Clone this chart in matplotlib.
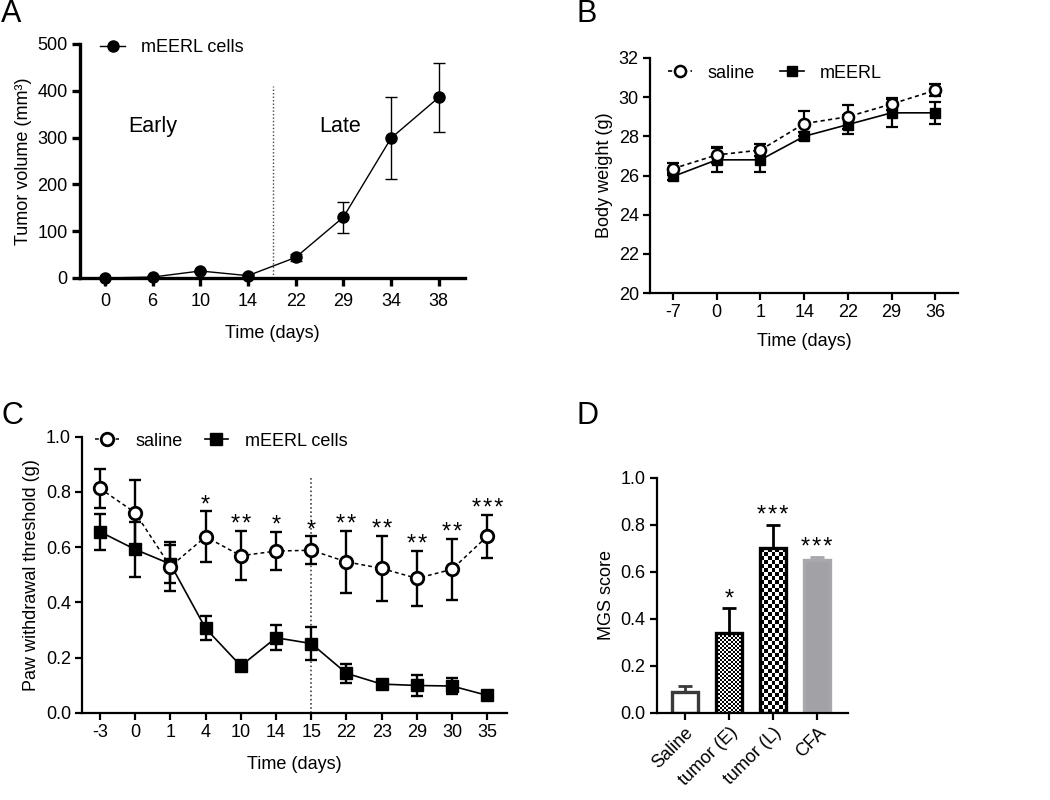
import numpy as np
import matplotlib
matplotlib.use('Agg')
import matplotlib.pyplot as plt

plt.rcParams['font.family'] = ['Liberation Sans', 'DejaVu Sans']
plt.rcParams['font.size'] = 13

# A - tumor growth
a_days = ['0', '6', '10', '14', '22', '29', '34', '38']
a_volume = [0, 2, 15, 5, 44, 130, 299, 386]
a_err = [0, 2, 3, 3, 8, 33, 87, 74]
a_split = 3.52
a_split_top = 410

# B - body weight
b_days = ['-7', '0', '1', '14', '22', '29', '36']
b_saline = [26.35, 27.05, 27.3, 28.65, 29.0, 29.65, 30.35]
b_saline_err = [0.3, 0.4, 0.3, 0.65, 0.6, 0.3, 0.3]
b_meerl = [25.95, 26.8, 26.8, 28.0, 28.6, 29.2, 29.2]
b_meerl_err = [0.2, 0.6, 0.6, 0.2, 0.5, 0.7, 0.55]

# C - paw withdrawal threshold
c_days = ['-3', '0', '1', '4', '10', '14', '15', '22', '23', '29', '30', '35']
c_saline = [0.813, 0.725, 0.53, 0.638, 0.569, 0.586, 0.589, 0.547, 0.523, 0.487, 0.52, 0.64]
c_saline_err = [0.072, 0.12, 0.09, 0.093, 0.089, 0.07, 0.05, 0.112, 0.117, 0.1, 0.11, 0.078]
c_meerl = [0.656, 0.592, 0.539, 0.306, 0.17, 0.272, 0.251, 0.143, 0.104, 0.099, 0.097, 0.063]
c_meerl_err = [0.065, 0.1, 0.07, 0.043, 0.02, 0.046, 0.06, 0.034, 0.01, 0.038, 0.028, 0.005]
c_stars = ['', '', '', '*', '**', '*', '*', '**', '**', '**', '**', '***']
c_split = 6
c_split_top = 0.855

# D - MGS score
d_groups = ['Saline', 'tumor (E)', 'tumor (L)', 'CFA']
d_score = [0.09, 0.34, 0.70, 0.65]
d_err = [0.025, 0.105, 0.10, 0.014]
d_stars = ['', '*', '***', '***']


def style_axes(ax, lw, ticklen, pad=3):
    for side in ['top', 'right']:
        ax.spines[side].set_visible(False)
    for side in ['left', 'bottom']:
        ax.spines[side].set_linewidth(lw)
    ax.tick_params(width=lw, length=ticklen, labelsize=13, pad=pad)


def spaced(stars):
    # GraphPad draws the asterisks with a little room between them
    return '\u200a'.join(stars)


def checker_fill(ax, bar, cell_px):
    """fill a bar with a black/white checkerboard clipped to the bar"""
    x0, y0 = bar.get_x(), bar.get_y()
    w, h = bar.get_width(), bar.get_height()
    p0 = ax.transData.transform((x0, y0))
    p1 = ax.transData.transform((x0 + w, y0 + h))
    nx = max(1, int(round((p1[0] - p0[0]) / cell_px)))
    ny = max(1, int(round((p1[1] - p0[1]) / cell_px)))
    pattern = np.indices((ny, nx)).sum(axis=0) % 2
    im = ax.imshow(pattern, cmap='gray', extent=(x0, x0 + w, y0, y0 + h),
                   origin='lower', interpolation='nearest', aspect='auto', zorder=1.5)
    im.set_clip_path(bar)


fig = plt.figure(figsize=(10.5, 8), dpi=100)

# ---------- A ----------
axA = fig.add_axes([0.0762, 0.6525, 0.3667, 0.2925])
xa = np.arange(len(a_days))
axA.errorbar(xa, a_volume, yerr=a_err, fmt='none', ecolor='black', elinewidth=1, capsize=4, capthick=1, zorder=3)
axA.plot(xa, a_volume, '-o', color='black', lw=1, ms=8, label='mEERL cells', clip_on=False, zorder=4)
axA.vlines(a_split, 0, a_split_top, colors='#444444', linestyles=(0, (1, 1.5)), lw=1)
axA.text(1.0, 323, 'Early', fontsize=15.5, ha='center', va='center')
axA.text(4.93, 323, 'Late', fontsize=15.5, ha='center', va='center')
axA.set_xlim(-0.52, 7.55)
axA.set_ylim(0, 500)
axA.set_xticks(xa)
axA.set_xticklabels(a_days)
axA.set_yticks(range(0, 501, 100))
axA.set_xlabel('Time (days)', fontsize=13, labelpad=11)
axA.set_ylabel('Tumor volume (mm³)', fontsize=13)
style_axes(axA, 2.4, 6)
axA.tick_params(axis='x', pad=4.5)
axA.legend(loc='center left', bbox_to_anchor=(0.052, 0.983), frameon=False, borderpad=0,
           borderaxespad=0, handlelength=1.4, handletextpad=0.85, fontsize=13)

# ---------- B ----------
axB = fig.add_axes([0.619, 0.63375, 0.2933, 0.29375])
xb = np.arange(len(b_days))
axB.errorbar(xb, b_meerl, yerr=b_meerl_err, fmt='none', ecolor='black', elinewidth=1.6, capsize=4, capthick=1.6, zorder=3)
axB.errorbar(xb, b_saline, yerr=b_saline_err, fmt='none', ecolor='black', elinewidth=1.6, capsize=4, capthick=1.6, zorder=3)
axB.plot(xb, b_saline, linestyle=(0, (2.5, 2)), color='black', lw=1.2, marker='o', ms=8,
         mfc='white', mec='black', mew=1.8, label='saline', zorder=5)
axB.plot(xb, b_meerl, '-s', color='black', lw=1.2, ms=7.5, label='mEERL', zorder=4)
axB.set_xlim(-0.53, 6.52)
axB.set_ylim(20, 32)
axB.set_xticks(xb)
axB.set_xticklabels(b_days)
axB.set_yticks(range(20, 33, 2))
axB.set_xlabel('Time (days)', fontsize=13, labelpad=8.5)
axB.set_ylabel('Body weight (g)', fontsize=13)
style_axes(axB, 1.6, 5)
axB.legend(loc='center left', bbox_to_anchor=(0.057, 0.935), frameon=False, borderpad=0,
           borderaxespad=0, ncol=2, handlelength=1.35, handletextpad=0.85, columnspacing=1.4, fontsize=13)

# ---------- C ----------
axC = fig.add_axes([0.0781, 0.109, 0.4048, 0.345])
xc = np.arange(len(c_days))
axC.errorbar(xc, c_meerl, yerr=c_meerl_err, fmt='none', ecolor='black', elinewidth=1.7, capsize=4, capthick=1.7, zorder=3)
axC.errorbar(xc, c_saline, yerr=c_saline_err, fmt='none', ecolor='black', elinewidth=1.7, capsize=4, capthick=1.7, zorder=3)
axC.plot(xc, c_saline, linestyle=(0, (2.5, 2)), color='black', lw=1.1, marker='o', ms=9,
         mfc='white', mec='black', mew=2, label='saline', zorder=5)
axC.plot(xc, c_meerl, '-s', color='black', lw=1.2, ms=8, label='mEERL cells', zorder=4)
axC.vlines(c_split, 0, c_split_top, colors='#444444', linestyles=(0, (1, 1.5)), lw=1.2)
for i, s in enumerate(c_stars):
    if s:
        axC.text(xc[i], c_saline[i] + c_saline_err[i], spaced(s), fontsize=17, ha='center', va='baseline')
axC.set_xlim(-0.51, 11.56)
axC.set_ylim(0, 1.0)
axC.set_xticks(xc)
axC.set_xticklabels(c_days)
axC.set_yticks(np.arange(0, 1.01, 0.2))
axC.yaxis.set_major_formatter(matplotlib.ticker.FormatStrFormatter('%.1f'))
axC.set_xlabel('Time (days)', fontsize=13, labelpad=11)
axC.set_ylabel('Paw withdrawal threshold (g)', fontsize=13)
style_axes(axC, 1.6, 5)
axC.legend(loc='center left', bbox_to_anchor=(0.031, 0.984), frameon=False, borderpad=0,
           borderaxespad=0, ncol=2, handlelength=1.3, handletextpad=0.95, columnspacing=1.2, fontsize=13)

# ---------- D ----------
axD = fig.add_axes([0.6254, 0.109, 0.1822, 0.29375])
xd = np.arange(len(d_groups))
faces = ['white', 'none', 'none', '#a2a2a6']
edges = ['#3a3a3a', 'black', 'black', '#a8a8ac']
err_colors = ['#3a3a3a', 'black', 'black', '#a8a8ac']
bars = axD.bar(xd, d_score, width=0.6, color=faces, edgecolor=edges, linewidth=2.4, zorder=2)
for i in xd:
    axD.errorbar(xd[i], d_score[i], yerr=[[0], [d_err[i]]], fmt='none', ecolor=err_colors[i],
                 elinewidth=2, capsize=5, capthick=2, zorder=1)
    if d_stars[i]:
        axD.text(xd[i], d_score[i] + d_err[i] + 0.012, spaced(d_stars[i]), fontsize=17, ha='center', va='baseline')
axD.set_xlim(-0.64, 3.7)
axD.set_ylim(0, 1.0)
checker_fill(axD, bars[1], 2)
checker_fill(axD, bars[2], 4)
axD.set_xlim(-0.64, 3.7)
axD.set_ylim(0, 1.0)
axD.set_xticks(xd)
axD.set_xticklabels(d_groups, rotation=45, ha='right', rotation_mode='anchor')
axD.set_yticks(np.arange(0, 1.01, 0.2))
axD.yaxis.set_major_formatter(matplotlib.ticker.FormatStrFormatter('%.1f'))
axD.set_ylabel('MGS score', fontsize=13)
style_axes(axD, 1.6, 5)

# panel letters
for letter, x, y in [('A', 0.001, 0.982), ('B', 0.549, 0.982), ('C', 0.001, 0.48), ('D', 0.549, 0.48)]:
    fig.text(x, y, letter, fontsize=22, ha='left', va='center')

fig.savefig('out.png', dpi=100)
